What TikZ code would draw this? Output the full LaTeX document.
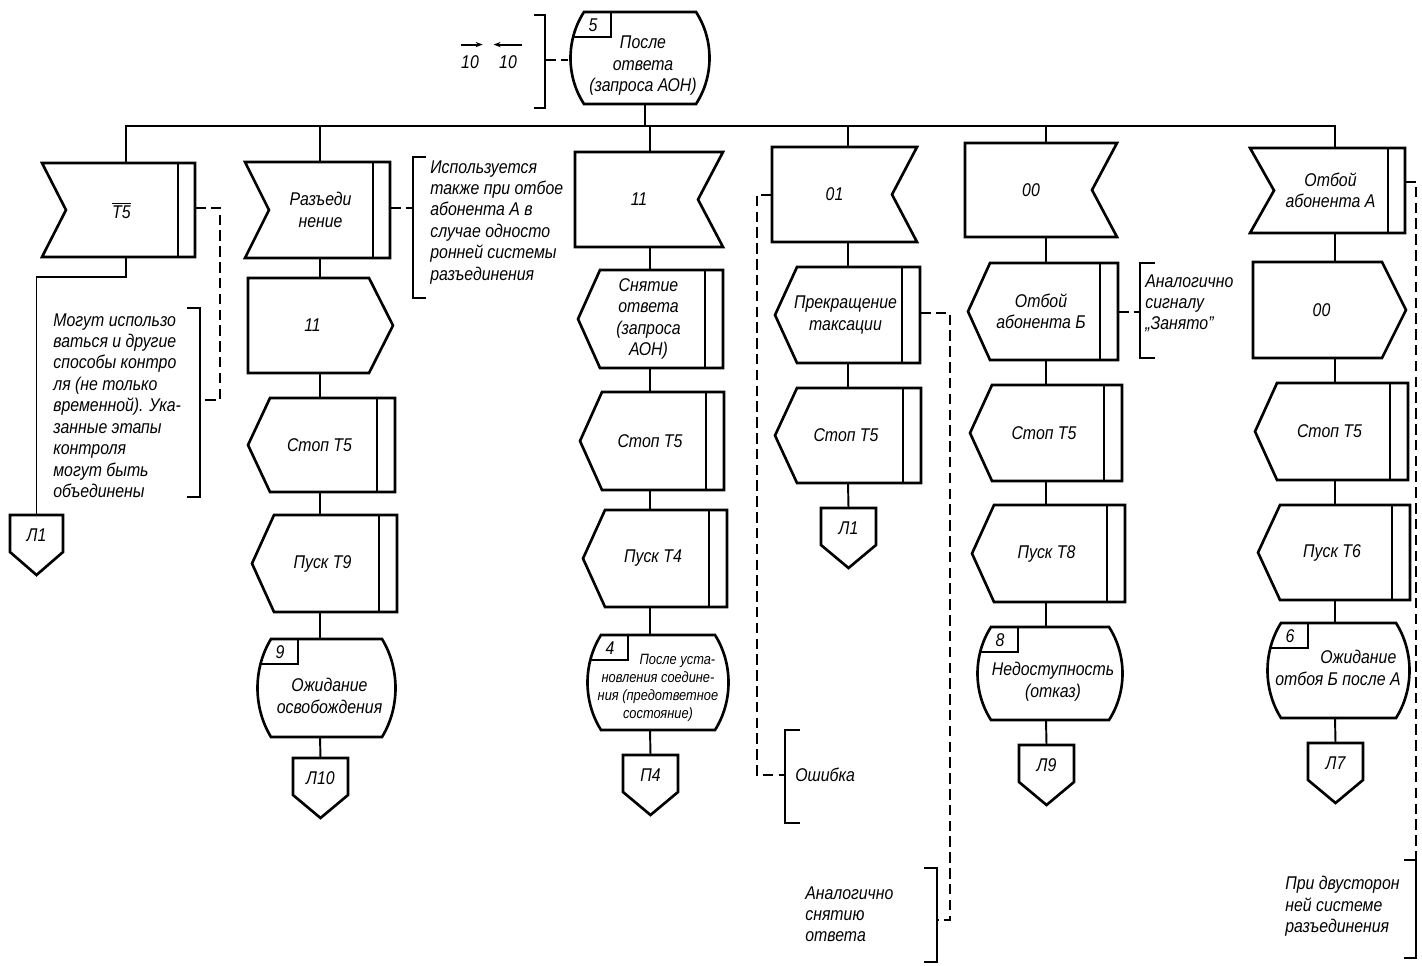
\documentclass[tikz,border=0pt]{standalone}
\usepackage{fontspec}
\setmainfont{Liberation Sans}[FakeStretch=0.86]
\usetikzlibrary{positioning,calc,arrows.meta}

\newcommand{\lbfont}{\fontsize{10.5}{12.2}\selectfont\itshape}
\newcommand{\smfont}{\fontsize{8.5}{10.2}\selectfont\itshape}

% input, notch on the left, double line on the right
\newcommand{\sigl}[7]{%
  \draw[shp] (#3,#4) -- (#5,#4) -- (#5,#6) -- (#3,#6) -- ({#3+24},{(#4+#6)/2}) -- cycle;
  \draw[shp] ({#5-17},#4) -- ({#5-17},#6);
  \node[lbl] (#1) at ({(#3+#5)/2+3},{(#4+#6)/2}) {#7};
  \coordinate (#1-t) at (#2,#4);
  \coordinate (#1-b) at (#2,#6);
}
% input, notch on the right
\newcommand{\sigr}[7]{%
  \draw[shp] (#3,#4) -- (#5,#4) -- ({#5-25},{(#4+#6)/2}) -- (#5,#6) -- (#3,#6) -- cycle;
  \node[lbl] (#1) at ({(#3+#5)/2-10},{(#4+#6)/2}) {#7};
  \coordinate (#1-t) at (#2,#4);
  \coordinate (#1-b) at (#2,#6);
}
% output, point on the right
\newcommand{\outr}[7]{%
  \draw[shp] (#3,#4) -- ({#5-24},#4) -- (#5,{(#4+#6)/2}) -- ({#5-24},#6) -- (#3,#6) -- cycle;
  \node[lbl] (#1) at ({(#3+#5)/2-8},{(#4+#6)/2}) {#7};
  \coordinate (#1-t) at (#2,#4);
  \coordinate (#1-b) at (#2,#6);
}
% point on the left, double line on the right
\newcommand{\tsk}[7]{%
  \draw[shp] ({#3+22},#4) -- (#5,#4) -- (#5,#6) -- ({#3+22},#6) -- (#3,{(#4+#6)/2}) -- cycle;
  \draw[shp] ({#5-18},#4) -- ({#5-18},#6);
  \node[lbl] (#1) at ({(#3+#5)/2-2},{(#4+#6)/2}) {#7};
  \coordinate (#1-t) at (#2,#4);
  \coordinate (#1-b) at (#2,#6);
}
% state with number box
\newcommand{\stt}[8]{%
  \draw[shp] ({#3+16},#4) -- ({#5-16},#4)
    .. controls ({#5+2},{#4+0.3*(#6-#4)}) and ({#5+2},{#6-0.3*(#6-#4)}) .. ({#5-16},#6)
    -- ({#3+16},#6)
    .. controls ({#3-2},{#6-0.3*(#6-#4)}) and ({#3-2},{#4+0.3*(#6-#4)}) .. cycle;
  \draw[shp] ({#3+6},{#4+25}) -- ({#3+43},{#4+25}) -- ({#3+43},#4);
  \node[lbl] (#1-no) at ({#3+25},{#4+13}) {#7};
  \node[lbl] (#1) at ({(#3+#5)/2+3},{(#4+#6)/2+8}) {#8};
  \coordinate (#1-t) at (#2,#4);
  \coordinate (#1-b) at (#2,#6);
}
% connector
\newcommand{\cnn}[5]{%
  \draw[shp] (#2,#3) -- (#4,#3) -- (#4,{#3+37}) -- ({(#2+#4)/2},{#3+60}) -- (#2,{#3+37}) -- cycle;
  \node[lbl] (#1) at ({(#2+#4)/2},{#3+20}) {#5};
  \coordinate (#1-t) at ({(#2+#4)/2},#3);
}

\begin{document}
\begin{tikzpicture}[x=0.02cm, y=-0.02cm,
    shp/.style={line width=1.5pt, line join=miter},
    ln/.style={line width=1.1pt},
    dsh/.style={line width=1pt, dash pattern=on 6pt off 3pt},
    lbl/.style={font=\lbfont, align=center, inner sep=0pt},
    note/.style={font=\lbfont, align=left, inner sep=0pt, anchor=north west}]
    \useasboundingbox (0,0) rectangle (1422,966);

    % Start state
    \stt{s5}{645}{568}{12}{712}{104}{5}{После\\ответа\\(запроса АОН)}
    \node[lbl] (ta) at (470,62) {10};
    \node[lbl] (tb) at (508,62) {10};
    \draw[ln, -{Stealth[length=4pt]}] ([yshift=6pt]ta.north west) -- ([yshift=6pt,xshift=2pt]ta.north east);
    \draw[ln, -{Stealth[length=4pt]}] ([yshift=6pt,xshift=3pt]tb.north east) -- ([yshift=6pt,xshift=-3pt]tb.north west);
    \draw[ln] (534,15) -- (545,15) -- (545,108) -- (534,108);
    \coordinate (br5) at (545,60);
    \draw[dsh] (br5) -- (568,60);

    % Column 1
    \sigl{t5}{126}{42}{163}{195}{257}{$\overline{\hbox{T5}}$}
    \cnn{la}{10}{515}{63}{Л1}
    \draw[dsh] (195,208) -- (220,208) -- (220,400) -- (200,400);
    \draw[ln] (187,308) -- (200,308) -- (200,497) -- (187,497);
    \node[note] (n1) at (53,313) {Могут использо\\ваться и другие\\способы контро\\ля (не только\\временной). Ука-\\занные этапы\\контроля\\могут быть\\объединены};

    % Column 2
    \sigl{razd}{320}{245}{162}{390}{258}{Разъеди\\нение}
    \outr{o11}{320}{248}{278}{393}{373}{11}
    \tsk{stpa}{320}{248}{398}{395}{492}{Стоп T5}
    \tsk{pt9}{320}{252}{515}{397}{612}{Пуск T9}
    \stt{s9}{320}{255}{639}{398}{737}{9}{Ожидание\\освобождения}
    \cnn{l10}{293}{758}{348}{Л10}
    \draw[dsh] (390,208) -- (413,208);
    \draw[ln] (426,157) -- (413,157) -- (413,298) -- (426,298);
    \node[note] (n2) at (430,160) {Используется\\также при отбое\\абонента А в\\случае односто\\ронней системы\\разъединения};

    % Column 3
    \sigr{i11}{650}{575}{152}{723}{247}{11}
    \tsk{snt}{650}{578}{270}{723}{368}{Снятие\\ответа\\(запроса\\АОН)}
    \tsk{stpb}{650}{580}{392}{724}{490}{Стоп T5}
    \tsk{pt4}{650}{583}{510}{727}{607}{Пуск T4}
    \stt{s4}{650}{585}{635}{731}{730}{4}{}
    \node[lbl, font=\smfont] (s4t) at (658,688) {\hspace*{2.6em}После уста-\\новления соедине-\\ния (предответное\\состояние)};
    \cnn{p4}{623}{755}{678}{П4}

    % Column 4
    \sigr{i01}{848}{772}{147}{917}{242}{01}
    \tsk{prk}{848}{775}{267}{920}{363}{Прекращение\\таксации}
    \tsk{stpc}{848}{775}{388}{921}{483}{Стоп T5}
    \cnn{lb}{821}{508}{876}{Л1}
    \draw[dsh] (772,195) -- (757,195) -- (757,775) -- (785,775);
    \draw[ln] (800,730) -- (785,730) -- (785,823) -- (800,823);
    \node[lbl, anchor=west] (err) at (795,775) {Ошибка};
    \draw[dsh] (920,313) -- (950,313) -- (950,920) -- (937,920);
    \draw[ln] (924,868) -- (937,868) -- (937,962) -- (924,962);
    \node[note] (n3) at (805,886) {Аналогично\\снятию\\ответа};

    % Column 5
    \sigr{i00}{1046}{965}{143}{1117}{237}{00}
    \tsk{otb}{1046}{968}{263}{1118}{360}{Отбой\\абонента Б}
    \tsk{stpd}{1046}{970}{385}{1122}{481}{Стоп T5}
    \tsk{pt8}{1046}{972}{505}{1125}{602}{Пуск T8}
    \stt{s8}{1046}{975}{627}{1125}{720}{8}{Недоступность\\(отказ)}
    \cnn{l9}{1019}{745}{1074}{Л9}
    \draw[dsh] (1118,312) -- (1140,312);
    \draw[ln] (1155,263) -- (1140,263) -- (1140,358) -- (1155,358);
    \node[note] (n4) at (1145,274) {Аналогично\\сигналу\\„Занято”};

    % Column 6
    \sigl{ota}{1335}{1250}{148}{1405}{233}{Отбой\\абонента А}
    \outr{o00}{1335}{1253}{262}{1406}{358}{00}
    \tsk{stpe}{1335}{1255}{383}{1408}{480}{Стоп T5}
    \tsk{pt6}{1335}{1258}{505}{1410}{600}{Пуск T6}
    \stt{s6}{1335}{1265}{623}{1412}{718}{6}{}
    \node[lbl] (s6t) at (1338,668) {\hspace*{2.2em}Ожидание\\отбоя Б после А};
    \cnn{l7}{1308}{743}{1363}{Л7}
    \draw[dsh] (1405,182) -- (1416,182) -- (1416,860);
    \draw[ln] (1404,860) -- (1416,860) -- (1416,958) -- (1404,958);
    \node[note] (n5) at (1285,876) {При двусторон\\ней системе\\разъединения};

    % Bus
    \coordinate (bus) at (0,126);
    \draw[ln] (s5-b) -- (s5-b |- bus);
    \draw[ln] (t5-t) -- (t5-t |- bus) -- (ota-t |- bus) -- (ota-t);
    \foreach \n in {razd, i11, i01, i00}
        \draw[ln] (\n-t) -- (\n-t |- bus);

    % Links
    \draw[ln] (t5-b) -- ++(0,20) -| (la-t);
    \draw[ln] (razd-b) -- (o11-t);
    \draw[ln] (o11-b) -- (stpa-t);
    \draw[ln] (stpa-b) -- (pt9-t);
    \draw[ln] (pt9-b) -- (s9-t);
    \draw[ln] (s9-b) -- (l10-t);
    \draw[ln] (i11-b) -- (snt-t);
    \draw[ln] (snt-b) -- (stpb-t);
    \draw[ln] (stpb-b) -- (pt4-t);
    \draw[ln] (pt4-b) -- (s4-t);
    \draw[ln] (s4-b) -- (p4-t);
    \draw[ln] (i01-b) -- (prk-t);
    \draw[ln] (prk-b) -- (stpc-t);
    \draw[ln] (stpc-b) -- (lb-t);
    \draw[ln] (i00-b) -- (otb-t);
    \draw[ln] (otb-b) -- (stpd-t);
    \draw[ln] (stpd-b) -- (pt8-t);
    \draw[ln] (pt8-b) -- (s8-t);
    \draw[ln] (s8-b) -- (l9-t);
    \draw[ln] (ota-b) -- (o00-t);
    \draw[ln] (o00-b) -- (stpe-t);
    \draw[ln] (stpe-b) -- (pt6-t);
    \draw[ln] (pt6-b) -- (s6-t);
    \draw[ln] (s6-b) -- (l7-t);
\end{tikzpicture}
\end{document}
